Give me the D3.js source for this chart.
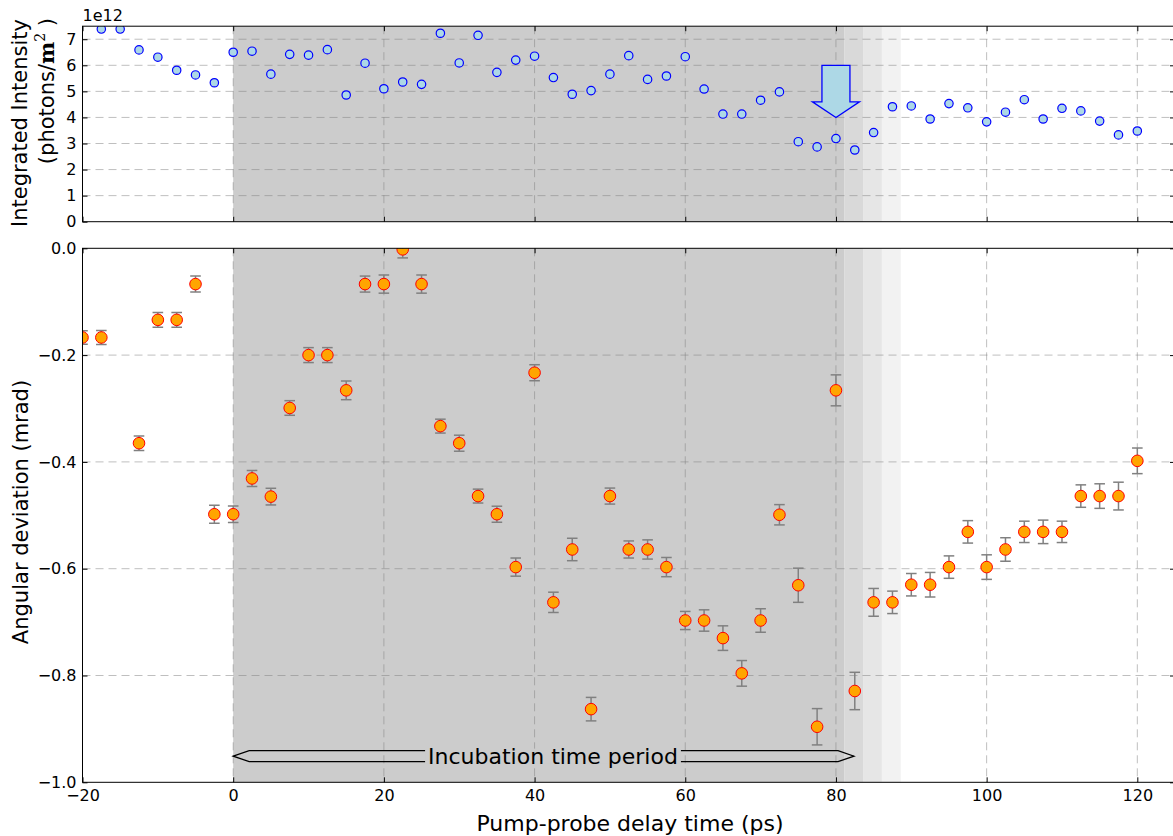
<!DOCTYPE html>
<meta charset="utf-8">

<style>
body { margin: 0; background: #fff; }
text { font-family: "DejaVu Sans", sans-serif; fill: #000; }
.grid line { stroke: rgba(128,128,128,0.5); stroke-width: 1; stroke-dasharray: 8,5; }
.axis path.domain { display: none; }
.axis line { stroke: #000; }
.spine { fill: none; stroke: #000; stroke-width: 1; }
</style>

<body>
<svg width=1173 height=836></svg>
</body>

<script src="https://d3js.org/d3.v7.min.js"></script>
<script>
// top panel: integrated intensity (x 1e12 photons/m^2)
const intensityDelay = [-17.5, -15, -12.5, -10, -7.5, -5, -2.5, 0, 2.5, 5, 7.5, 10, 12.5, 15, 17.5, 20,
  22.5, 25, 27.5, 30, 32.5, 35, 37.5, 40, 42.5, 45, 47.5, 50, 52.5, 55, 57.5, 60, 62.5, 65, 67.5, 70,
  72.5, 75, 77.5, 80, 82.5, 85, 87.5, 90, 92.5, 95, 97.5, 100, 102.5, 105, 107.5, 110, 112.5, 115, 117.5, 120]
const intensity = [7.39, 7.39, 6.59, 6.31, 5.81, 5.63, 5.33, 6.50, 6.54, 5.66, 6.42, 6.39, 6.60, 4.86, 6.08, 5.10,
  5.36, 5.27, 7.23, 6.09, 7.15, 5.73, 6.20, 6.35, 5.53, 4.89, 5.03, 5.66, 6.37, 5.46, 5.59, 6.33, 5.09, 4.13, 4.13, 4.66,
  4.98, 3.07, 2.87, 3.19, 2.75, 3.42, 4.41, 4.44, 3.94, 4.53, 4.37, 3.83, 4.20, 4.68, 3.94, 4.35, 4.25, 3.86, 3.33, 3.48]

// bottom panel: angular deviation (mrad) with error
const deviationDelay = [-20, -17.5, -12.5, -10, -7.5, -5, -2.5, 0, 2.5, 5, 7.5, 10, 12.5, 15, 17.5, 20,
  22.5, 25, 27.5, 30, 32.5, 35, 37.5, 40, 42.5, 45, 47.5, 50, 52.5, 55, 57.5, 60, 62.5, 65, 67.5, 70,
  72.5, 75, 77.5, 80, 82.5, 85, 87.5, 90, 92.5, 95, 97.5, 100, 102.5, 105, 107.5, 110, 112.5, 115, 117.5, 120]
const deviation = [-0.167, -0.167, -0.365, -0.134, -0.134, -0.067, -0.498, -0.498, -0.431, -0.465, -0.299, -0.200, -0.200, -0.266, -0.067, -0.067,
  -0.002, -0.067, -0.333, -0.365, -0.464, -0.498, -0.597, -0.233, -0.663, -0.564, -0.863, -0.464, -0.564, -0.564, -0.597, -0.697, -0.697, -0.730, -0.796, -0.697,
  -0.499, -0.631, -0.896, -0.266, -0.829, -0.663, -0.663, -0.630, -0.630, -0.597, -0.531, -0.597, -0.564, -0.531, -0.531, -0.531, -0.464, -0.464, -0.464, -0.398]
const deviationErr = [0.0125, 0.013, 0.0137, 0.0137, 0.0137, 0.015, 0.017, 0.0156, 0.015, 0.0156, 0.0137, 0.014, 0.014, 0.0175, 0.015, 0.017,
  0.016, 0.017, 0.013, 0.015, 0.013, 0.015, 0.017, 0.015, 0.019, 0.021, 0.022, 0.015, 0.016, 0.018, 0.018, 0.017, 0.020, 0.023, 0.024, 0.022,
  0.019, 0.032, 0.034, 0.029, 0.035, 0.026, 0.021, 0.021, 0.023, 0.021, 0.021, 0.023, 0.022, 0.020, 0.022, 0.020, 0.021, 0.023, 0.026, 0.024]

const xTicks = [-20, 0, 20, 40, 60, 80, 100, 120]
const intensityTicks = [0, 1, 2, 3, 4, 5, 6, 7]
const deviationTicks = [0, -0.2, -0.4, -0.6, -0.8, -1.0]

// shaded incubation bands (ps)
const bandEdges = [0, 81.1, 83.6, 86.1, 88.6]
const bandColors = ["#cccccc", "#d9d9d9", "#e6e6e6", "#f2f2f2"]

// annotations
const dropArrow = {x: 80, from: 6.0, to: 4.0}
const incubation = {from: 0, to: 82.4, y: -0.951, label: "Incubation time period"}

const svg = d3.select("svg")

const x = d3.scaleLinear().domain([-20, 125]).range([82.5, 1175])
const yTop = d3.scaleLinear().domain([0, 7.5]).range([221.7, 26.2])
const yBot = d3.scaleLinear().domain([-1, 0]).range([782.3, 248.3])

const left = x.range()[0], right = x.range()[1]

function panel(id, y, gridValues) {
  const [bottom, top] = y.range()
  const g = svg.append("g")

  g.append("clipPath").attr("id", id)
    .append("rect").attr("x", left).attr("y", top)
    .attr("width", right - left).attr("height", bottom - top)

  const inner = g.append("g").attr("clip-path", `url(#${id})`)

  inner.selectAll(".band")
    .data(d3.range(bandColors.length))
    .join("rect")
      .attr("x", (i) => x(bandEdges[i]))
      .attr("width", (i) => x(bandEdges[i + 1]) - x(bandEdges[i]))
      .attr("y", top).attr("height", bottom - top)
      .attr("fill", (i) => bandColors[i])

  const grid = inner.append("g").attr("class", "grid")
  grid.selectAll(".gx")
    .data(xTicks.filter((d) => d > -20))
    .join("line")
      .attr("x1", (d) => x(d)).attr("x2", (d) => x(d))
      .attr("y1", top).attr("y2", bottom)
  grid.selectAll(".gy")
    .data(gridValues)
    .join("line")
      .attr("x1", left).attr("x2", right)
      .attr("y1", (d) => y(d)).attr("y2", (d) => y(d))

  return {g, inner, top, bottom}
}

function frame(p, y, yTicksVals, yFormat, showX) {
  const t = 5
  p.g.append("g").attr("class", "axis")
    .attr("transform", `translate(${left},0)`)
    .call(d3.axisLeft(y).tickValues(yTicksVals).tickSize(-t).tickPadding(6).tickFormat(yFormat))
    .call((s) => s.selectAll("text").attr("font-size", 16).attr("font-family", "DejaVu Sans"))
  p.g.append("g").attr("class", "axis")
    .attr("transform", `translate(${right},0)`)
    .call(d3.axisRight(y).tickValues(yTicksVals).tickSize(-t).tickFormat(""))
  p.g.append("g").attr("class", "axis")
    .attr("transform", `translate(0,${p.top})`)
    .call(d3.axisTop(x).tickValues(xTicks).tickSize(-t).tickFormat(""))
  const bx = p.g.append("g").attr("class", "axis")
    .attr("transform", `translate(0,${p.bottom})`)
    .call(d3.axisBottom(x).tickValues(xTicks).tickSize(-t).tickPadding(7)
      .tickFormat(showX ? d3.format("d") : ""))
  bx.selectAll("text").attr("font-size", 16).attr("font-family", "DejaVu Sans")
  p.g.append("rect").attr("class", "spine")
    .attr("x", left).attr("y", p.top)
    .attr("width", right - left).attr("height", p.bottom - p.top)
}

// ---- top panel
const pt = panel("clipTop", yTop, intensityTicks.filter((d) => d > 0))

pt.inner.selectAll(".dot")
  .data(intensityDelay)
  .join("circle")
    .attr("cx", (d) => x(d))
    .attr("cy", (d, i) => yTop(intensity[i]))
    .attr("r", 4.2)
    .attr("fill", "#add8e6")
    .attr("stroke", "#0000ff")
    .attr("stroke-width", 1.2)

{
  const cx = x(dropArrow.x), y0 = yTop(dropArrow.from), y1 = yTop(dropArrow.to)
  const sw = 14, hw = 23.5, hl = 15.6
  const pts = [[cx - sw, y0], [cx + sw, y0], [cx + sw, y1 - hl], [cx + hw, y1 - hl],
    [cx, y1], [cx - hw, y1 - hl], [cx - sw, y1 - hl]]
  pt.inner.append("path")
    .attr("d", d3.line()(pts) + "Z")
    .attr("fill", "#add8e6")
    .attr("stroke", "#0000ff")
    .attr("stroke-width", 1.3)
}

frame(pt, yTop, intensityTicks, d3.format("d"), false)

svg.append("text")
  .attr("x", left).attr("y", 21)
  .attr("font-size", 16)
  .text("1e12")

// ---- bottom panel
const pb = panel("clipBot", yBot, [-0.2, -0.4, -0.6, -0.8])

const err = pb.inner.append("g")
  .attr("stroke", "#808080").attr("stroke-width", 1.5)
deviationDelay.forEach((d, i) => {
  const cx = x(d), lo = yBot(deviation[i] - deviationErr[i]), hi = yBot(deviation[i] + deviationErr[i])
  err.append("line").attr("x1", cx).attr("x2", cx).attr("y1", lo).attr("y2", hi)
  err.append("line").attr("x1", cx - 5.3).attr("x2", cx + 5.3).attr("y1", lo).attr("y2", lo)
  err.append("line").attr("x1", cx - 5.3).attr("x2", cx + 5.3).attr("y1", hi).attr("y2", hi)
})

pb.inner.selectAll(".dev")
  .data(deviationDelay)
  .join("circle")
    .attr("cx", (d) => x(d))
    .attr("cy", (d, i) => yBot(deviation[i]))
    .attr("r", 5.8)
    .attr("fill", "#ffa500")
    .attr("stroke", "#ff0000")
    .attr("stroke-width", 1)

{
  const L = x(incubation.from), R = x(incubation.to), c = yBot(incubation.y)
  const h = 5.5, hl = 16
  const pts = [[L, c], [L + hl, c - h], [R - hl, c - h], [R, c], [R - hl, c + h], [L + hl, c + h]]
  pb.inner.append("path")
    .attr("d", d3.line()(pts) + "Z")
    .attr("fill", "none")
    .attr("stroke", "#000")
    .attr("stroke-width", 1.2)
  const label = pb.inner.append("text")
    .attr("x", 553).attr("y", c + 7.5)
    .attr("text-anchor", "middle")
    .attr("font-size", 22)
    .text(incubation.label)
  const bb = label.node().getBBox()
  pb.inner.insert("rect", "text")
    .attr("x", bb.x - 3).attr("width", bb.width + 6)
    .attr("y", c - h - 2).attr("height", 2 * h + 4)
    .attr("fill", bandColors[0])
}

frame(pb, yBot, deviationTicks, d3.format(".1f"), true)

// ---- axis titles
svg.append("text")
  .attr("transform", "translate(27,123) rotate(-90)")
  .attr("text-anchor", "middle")
  .attr("font-size", 21)
  .text("Integrated Intensity")

const unit = svg.append("text")
  .attr("transform", "translate(54,18) rotate(-90)")
  .attr("text-anchor", "end")
  .attr("font-size", 21)
unit.append("tspan").text("(photons/")
unit.append("tspan").attr("font-family", "DejaVu Serif").attr("font-weight", "bold").text("m")
unit.append("tspan").attr("font-family", "DejaVu Serif").attr("font-size", 14).attr("dy", -9).text("2")
unit.append("tspan").attr("dy", 9).text(" )")

svg.append("text")
  .attr("transform", "translate(28,512) rotate(-90)")
  .attr("text-anchor", "middle")
  .attr("font-size", 21)
  .text("Angular deviation (mrad)")

svg.append("text")
  .attr("x", 630).attr("y", 831)
  .attr("text-anchor", "middle")
  .attr("font-size", 22)
  .text("Pump-probe delay time (ps)")
</script>
